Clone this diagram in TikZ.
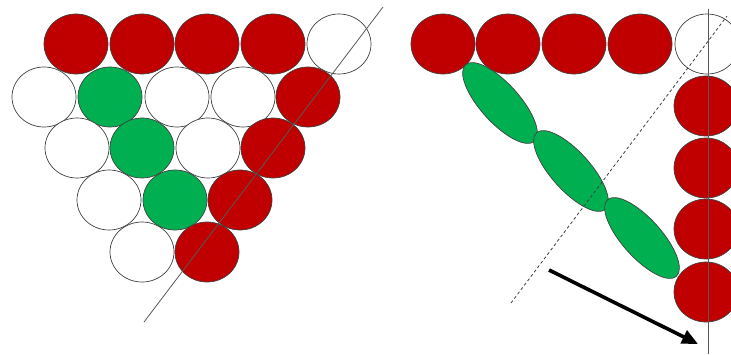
\documentclass[tikz,border=0pt]{standalone}
\usetikzlibrary{shapes.geometric,arrows.meta}
\definecolor{ballred}{RGB}{192,0,0}
\definecolor{ballgreen}{RGB}{0,176,80}
\begin{document}
\begin{tikzpicture}[x=1pt,y=-1pt,
  ball/.style={ellipse,draw=black!75,line width=0.7pt,minimum width=64pt,minimum height=60pt,inner sep=0pt},
  redball/.style={ball,fill=ballred},
  greenball/.style={ball,fill=ballgreen},
  whiteball/.style={ball,fill=white},
  leaf/.style={ellipse,draw=black!75,line width=0.7pt,fill=ballgreen,minimum width=103pt,minimum height=39pt,inner sep=0pt,rotate=-48},
  guide/.style={draw=black!65,line width=0.8pt},
  dashguide/.style={draw=black!75,line width=0.8pt,dash pattern=on 3pt off 2.5pt}]
\useasboundingbox (0,0) rectangle (731,354);
\clip (0,0) rectangle (731,354);
% left panel
\node[redball] (a1) at (76,44) {};
\node[redball] (a2) at (142,44) {};
\node[redball] (a3) at (207,44) {};
\node[redball] (a4) at (273,44) {};
\node[whiteball] (a5) at (339,44) {};
\node[whiteball] (b1) at (44,97) {};
\node[greenball] (b2) at (110,97) {};
\node[whiteball] (b3) at (177,97) {};
\node[whiteball] (b4) at (243,97) {};
\node[redball] (b5) at (308,97) {};
\node[whiteball] (c1) at (77,148) {};
\node[greenball] (c2) at (142,148) {};
\node[whiteball] (c3) at (208,148) {};
\node[redball] (c4) at (273,148) {};
\node[whiteball] (d1) at (109,200) {};
\node[greenball] (d2) at (175,200) {};
\node[redball] (d3) at (240,200) {};
\node[whiteball] (e1) at (142,252) {};
\node[redball] (e2) at (207,252) {};
\coordinate (lineA) at (144,322);
\coordinate (lineB) at (383,7);
\draw[guide] (lineA) -- (lineB);
% right panel
\node[redball] (r1) at (443,44) {};
\node[redball] (r2) at (508,44) {};
\node[redball] (r3) at (574,44) {};
\node[redball] (r4) at (640,44) {};
\node[whiteball] (r5) at (707,44) {};
\node[redball] (s1) at (706,106) {};
\node[redball] (s2) at (706,168) {};
\node[redball] (s3) at (706,229) {};
\node[redball] (s4) at (706,292) {};
\node[leaf] (g1) at (500,103) {};
\node[leaf] (g2) at (571,171) {};
\node[leaf] (g3) at (642,238) {};
\coordinate (vA) at (708,9);
\coordinate (vB) at (708,354);
\draw[guide] (vA) -- (vB);
\coordinate (dA) at (511,303);
\coordinate (dB) at (727,16);
\draw[dashguide] (dA) -- (dB);
\coordinate (arrS) at (549,270);
\coordinate (arrT) at (698,344);
\draw[line width=3.6pt,-{Triangle[length=16pt,width=14pt]}] (arrS) -- (arrT);
\end{tikzpicture}
\end{document}
